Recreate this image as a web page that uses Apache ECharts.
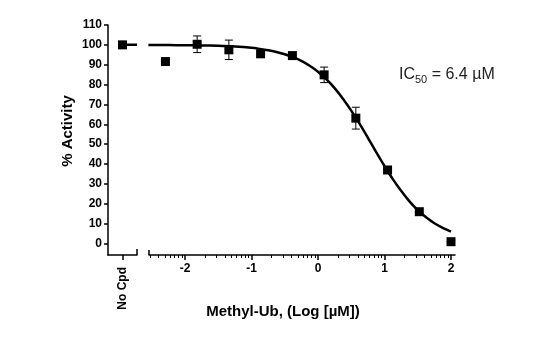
<!DOCTYPE html>
<html><head><meta charset="utf-8">
<script src="https://cdn.jsdelivr.net/npm/echarts@6/dist/echarts.min.js"></script>
<style>html,body{margin:0;padding:0;background:#fff}#c{width:545px;height:358px}</style>
</head><body><div id="c"></div>
<script>
// ---- data ----
const noCpdLabel = 'No Cpd';
const noCpdValue = 100;
const logConc = [-2.294, -1.817, -1.340, -0.863, -0.385, 0.092, 0.569, 1.046, 1.523, 2.000];
const activity = [91.6, 100.3, 97.5, 95.5, 94.6, 84.9, 63.1, 37.0, 16.0, 0.9];
const activityErr = [0, 4.2, 4.9, 0, 0, 3.9, 5.5, 0, 0, 0];
const curveX = [-2.55, -2.25, -2, -1.75, -1.5, -1.25, -1, -0.875, -0.75, -0.625, -0.5, -0.375, -0.25, -0.125,
  0, 0.125, 0.25, 0.375, 0.5, 0.625, 0.75, 0.875, 1, 1.125, 1.25, 1.375, 1.5, 1.625, 1.75, 1.875, 2];
const curveY = [99.96, 99.91, 99.8, 99.72, 99.5, 99.13, 98.5, 97.96, 97.3, 96.42, 95.3, 93.82, 91.9, 89.51,
  86.5, 82.7, 78.2, 72.9, 66.9, 60.3, 53.2, 46.0, 39.0, 32.4, 26.5, 21.2, 16.8, 13.2, 10.2, 7.9, 6.0];
const noCpdCurve = [100, 100];
const yTicks = [0, 10, 20, 30, 40, 50, 60, 70, 80, 90, 100, 110];
const xTicks = [-2, -1, 0, 1, 2];
const xTitle = 'Methyl-Ub, (Log [µM])';
const yTitle = '% Activity';
const ic50Text = ['IC', '50', ' = 6.4 µM'];

// minor log ticks
const minorTicks = [];
for (let d = -3; d <= 2; d++) for (let k = 2; k <= 9; k++) {
  const v = d + Math.log10(k);
  if (v > -2.54 && v < 2.06) minorTicks.push(v);
}

const FONT = 'Liberation Sans, Arial, sans-serif';
const black = '#000';
const X2MIN = -2.541, X2MAX = 2.06, YMIN = -5.8, YMAX = 110;

const chart = echarts.init(document.getElementById('c'), null, {renderer: 'canvas'});
const lineStyle = {color: black, width: 1.5};

chart.setOption({
  animation: false,
  grid: [
    {left: 108, top: 25, width: 29, height: 230},
    {left: 149, top: 25, width: 306, height: 230}
  ],
  xAxis: [
    {gridIndex: 0, type: 'value', position: 'bottom', min: 0, max: 2, splitLine: {show: false},
     axisLine: {lineStyle: lineStyle, onZero: false},
     axisTick: {customValues: [1], length: 5, lineStyle: lineStyle},
     axisLabel: {customValues: [1], rotate: 90, margin: 12, formatter: () => noCpdLabel,
       fontFamily: FONT, fontWeight: 'bold', fontSize: 12, color: black}},
    {gridIndex: 1, type: 'value', position: 'bottom', min: X2MIN, max: X2MAX, splitLine: {show: false},
     axisLine: {lineStyle: lineStyle, onZero: false},
     axisTick: {customValues: xTicks, length: 5, lineStyle: lineStyle},
     axisLabel: {customValues: xTicks, margin: 8, fontFamily: FONT, fontWeight: 'bold', fontSize: 12, color: black}},
    {gridIndex: 1, type: 'value', position: 'bottom', min: X2MIN, max: X2MAX, splitLine: {show: false},
     axisLine: {show: false, onZero: false},
     axisTick: {customValues: minorTicks, length: 3, lineStyle: {color: black, width: 1}},
     axisLabel: {show: false}},
    {gridIndex: 1, type: 'value', position: 'bottom', min: X2MIN, max: X2MAX, splitLine: {show: false},
     axisLine: {show: false, onZero: false},
     axisTick: {customValues: [-2.538], length: 5, inside: true, lineStyle: lineStyle},
     axisLabel: {show: false}},
    {gridIndex: 0, type: 'value', position: 'bottom', min: 0, max: 2, splitLine: {show: false},
     axisLine: {show: false, onZero: false},
     axisTick: {customValues: [1.995], length: 6, inside: true, lineStyle: lineStyle},
     axisLabel: {show: false}}
  ],
  yAxis: [
    {gridIndex: 0, type: 'value', min: YMIN, max: YMAX, splitLine: {show: false},
     axisLine: {show: true, lineStyle: lineStyle, onZero: false},
     axisTick: {show: true, customValues: yTicks, length: 4, lineStyle: lineStyle},
     axisLabel: {customValues: yTicks, margin: 6, fontFamily: FONT, fontWeight: 'bold', fontSize: 12, color: black}},
    {gridIndex: 1, type: 'value', min: YMIN, max: YMAX, show: false}
  ],
  series: [
    {type: 'line', xAxisIndex: 0, yAxisIndex: 0, data: [[1, noCpdCurve[0]], [2, noCpdCurve[1]]],
     showSymbol: false, lineStyle: {color: black, width: 2.5}, clip: true, z: 2},
    {type: 'scatter', xAxisIndex: 0, yAxisIndex: 0, data: [[1, noCpdValue]],
     symbol: 'rect', symbolSize: 9, itemStyle: {color: black, opacity: 1}, z: 5},
    {type: 'line', xAxisIndex: 1, yAxisIndex: 1, data: curveX.map((x, i) => [x, curveY[i]]),
     smooth: 0.3, showSymbol: false, lineStyle: {color: black, width: 2.5}, clip: true, z: 2},
    {type: 'custom', xAxisIndex: 1, yAxisIndex: 1,
     data: logConc.map((x, i) => [x, activity[i], activityErr[i]]),
     renderItem: function (params, api) {
       const x = api.value(0), y = api.value(1), e = api.value(2);
       if (!e) return null;
       const top = api.coord([x, y + e]), bot = api.coord([x, y - e]);
       const hw = 4;
       const st = {stroke: black, lineWidth: 1};
       return {type: 'group', children: [
         {type: 'line', shape: {x1: top[0], y1: top[1], x2: bot[0], y2: bot[1]}, style: st},
         {type: 'line', shape: {x1: top[0] - hw, y1: top[1], x2: top[0] + hw, y2: top[1]}, style: st},
         {type: 'line', shape: {x1: bot[0] - hw, y1: bot[1], x2: bot[0] + hw, y2: bot[1]}, style: st}
       ]};
     }, z: 3},
    {type: 'scatter', xAxisIndex: 1, yAxisIndex: 1, data: logConc.map((x, i) => [x, activity[i]]),
     symbol: 'rect', symbolSize: 9, itemStyle: {color: black, opacity: 1}, z: 5}
  ],
  graphic: [
    {type: 'text', x: 283, y: 312, style: {text: xTitle, fontFamily: FONT, fontWeight: 'bold', fontSize: 15,
      fill: black, align: 'center', verticalAlign: 'middle'}},
    {type: 'text', x: 68, y: 131, rotation: Math.PI / 2, style: {text: yTitle, fontFamily: FONT, fontWeight: 'bold',
      fontSize: 15, fill: black, align: 'center', verticalAlign: 'middle'}},
    {type: 'text', x: 399, y: 75, style: {
      text: '{n|' + ic50Text[0] + '}{s|' + ic50Text[1] + '}{n|' + ic50Text[2] + '}',
      verticalAlign: 'middle', align: 'left',
      rich: {
        n: {fontFamily: FONT, fontSize: 16, fill: '#222', lineHeight: 18},
        s: {fontFamily: FONT, fontSize: 11, fill: '#222', lineHeight: 11, padding: [10, 0, 0, 0]}
      }}}
  ]
});
</script></body></html>
